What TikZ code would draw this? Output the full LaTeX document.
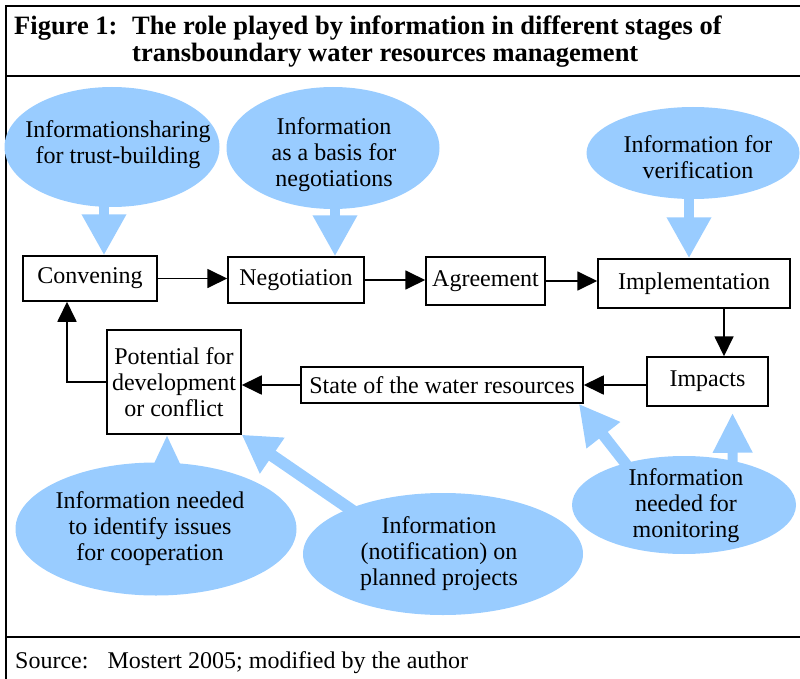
\documentclass[tikz,border=0pt]{standalone}
\usepackage{fontspec}
\setmainfont{Liberation Serif}
\usetikzlibrary{shapes.geometric,arrows.meta}
\definecolor{infoblue}{RGB}{153,204,255}

\begin{document}
\begin{tikzpicture}[x=1pt,y=-1pt,
    stage/.style={draw,line width=1.5pt,inner sep=0pt,align=center,font=\fontsize{24}{26}\selectfont},
    bubble/.style={ellipse,fill=infoblue,inner sep=0pt},
    note/.style={inner sep=0pt,align=center,font=\fontsize{24}{26}\selectfont},
    flow/.style={line width=1.8pt,-{Triangle[length=20pt,width=19pt]}},
    feed/.style={infoblue,line width=10pt,-{Triangle[length=41pt,width=42pt]}}]
  \useasboundingbox (0,0) rectangle (800,679);
  % frame
  \draw[line width=2.5pt] (800,6) -- (6,6) -- (6,679);
  \draw[line width=2.5pt] (6,76) -- (800,76);
  \draw[line width=2.5pt] (6,637) -- (800,637);
  \node[anchor=base west,inner sep=0pt,font=\fontsize{26.5}{27}\selectfont\bfseries] (title) at (14,35)
    {\begin{tabular}[t]{@{}p{118pt}@{}l@{}}Figure 1: & The role played by information in different stages of\\
      & transboundary water resources management\end{tabular}};
  \node[anchor=base west,note] (source) at (15,668) {Source:\hspace{19pt}Mostert 2005; modified by the author};

  % information bubbles
  \node[bubble,minimum width=215pt,minimum height=120pt] (trustE) at (112,147) {};
  \node[bubble,minimum width=213pt,minimum height=122pt] (basisE) at (333,148) {};
  \node[bubble,minimum width=213pt,minimum height=92pt] (verifE) at (693,153) {};
  \node[bubble,minimum width=281pt,minimum height=133pt] (issuesE) at (156,529) {};
  \node[bubble,minimum width=280pt,minimum height=122pt] (notifE) at (443,554) {};
  \node[bubble,minimum width=224pt,minimum height=98pt] (monitE) at (684,505) {};

  % stages
  \node[stage,minimum width=134pt,minimum height=45pt] (conv) at (90,278.5) {Convening};
  \node[stage,minimum width=136pt,minimum height=46pt] (neg) at (296,280) {Negotiation};
  \node[stage,minimum width=119pt,minimum height=48pt] (agr) at (485.5,281) {Agreement};
  \node[stage,minimum width=192pt,minimum height=49pt] (impl) at (694,283.5) {Implementation};
  \node[stage,minimum width=121pt,minimum height=49pt] (imp) at (707.5,381.5) {Impacts};
  \node[stage,minimum width=282pt,minimum height=36pt] (state) at (442,385) {State of the water resources};
  \node[stage,minimum width=134pt,minimum height=104pt] (pot) at (174,382) {Potential for\\development\\or conflict};

  % information flows
  \draw[feed] ([xshift=-8pt,yshift=4pt]trustE.south) -- ([xshift=14pt]conv.north);
  \draw[feed] ([xshift=2pt,yshift=4pt]basisE.south) -- ([xshift=39pt]neg.north);
  \draw[feed] ([xshift=-4pt,yshift=4pt]verifE.south) -- ([xshift=-5pt]impl.north);
  \draw[feed,-{Triangle[length=34pt,width=28pt]}] ([xshift=11pt,yshift=-6pt]issuesE.north) -- ([xshift=-7pt]pot.south);
  \draw[feed,line width=12pt,-{Triangle[length=37pt,width=41pt]}] ([shift={(20pt,-14pt)}]notifE.154) -- (pot.south east);
  \draw[feed,line width=11pt,-{Triangle[length=40pt,width=40pt]}] ([shift={(-44pt,23pt)}]monitE.center) -- ([xshift=-5pt]state.south east);
  \draw[feed,-{Triangle[length=40pt,width=37pt]}] ([shift={(49pt,-35pt)}]monitE.center) -- ([shift={(25pt,-6pt)}]imp.south);

  % stage cycle
  \coordinate (implOut) at ([xshift=30pt]impl.south);
  \draw[flow] (conv.east) -- (conv.east -| neg.west);
  \draw[flow] (neg.east) -- (neg.east -| agr.west);
  \draw[flow] (agr.east) -- (agr.east -| impl.west);
  \draw[flow] (implOut) -- (implOut |- imp.north);
  \draw[flow] (imp.west |- state.east) -- (state.east);
  \draw[flow] (state.west) -- (state.west -| pot.east);
  \draw[flow] (pot.west) -| ([xshift=-23pt]conv.south);

  % bubble texts
  \node[note] (trust) at (118,145) {Informationsharing\\for trust-building};
  \node[note] (basis) at (334,155) {Information\\as a basis for\\negotiations};
  \node[note] (verif) at (698,157) {Information for\\verification};
  \node[note] (issues) at (150,529) {Information needed\\to identify issues\\for cooperation};
  \node[note] (notif) at (439,554) {Information\\(notification) on\\planned projects};
  \node[note] (monit) at (686,506) {Information\\needed for\\monitoring};
\end{tikzpicture}
\end{document}
